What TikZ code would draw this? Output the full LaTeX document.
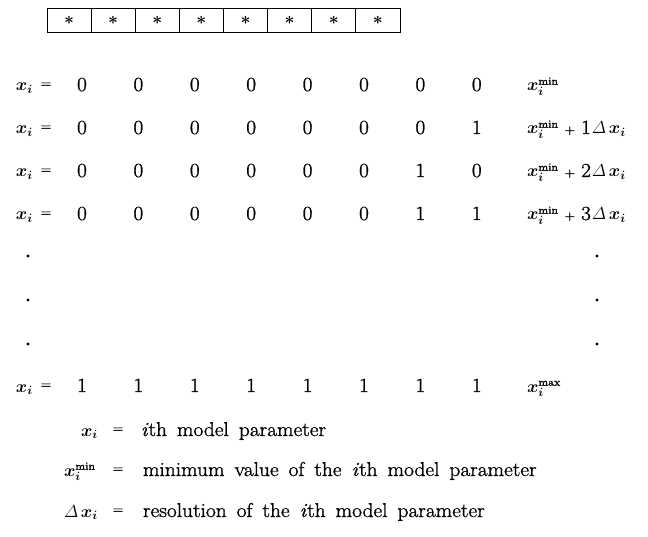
\documentclass[tikz,border=0pt]{standalone}
\usepackage{amsmath}
\usepackage{fontspec}
\setmainfont{Latin Modern Roman}[FakeBold=1.2,FakeStretch=1.07]
\newcommand{\bodyfont}{\fontsize{20}{23}\selectfont\spaceskip 10pt\relax}
\newcommand{\mathsize}{\fontsize{17}{20}\selectfont}
\newcommand{\bx}{\boldsymbol{x}_{\boldsymbol{i}}}
\newcommand{\xsubi}{{\mathsize$\bx$}}
\newcommand{\supsize}{\fontsize{11}{13}\selectfont}
\newcommand{\xlow}{{\mathsize$\bx^{\hbox{\supsize min}}$}}
\newcommand{\xhigh}{{\mathsize$\bx^{\hbox{\supsize max}}$}}
\newcommand{\dx}{{\mathsize$\mathit{\varDelta}\,\bx$}}
\newcommand{\plus}{{\fontsize{13}{15}\selectfont +}}
\newcommand{\step}[1]{\xlow\hspace{6pt}\plus\hspace{6pt}#1\hspace{1pt}\dx}
% one row of bits: #1 = row height, #2 = row name, #3 = the eight bits
\newcommand{\bitrow}[3]{%
  \node[lbl] (lx#2) at (16, #1+6) {\xsubi};
  \node[eqsign] (eq#2) at (46, #1) {=};
  \foreach \b [count=\k from 0] in {#3}
    \node[digit] (d#2\k) at ({82+56.4*\k}, #1+6) {\b};
}
\begin{document}
\begin{tikzpicture}[x=1pt,y=-1pt,
  every node/.style={inner sep=0pt, outer sep=0pt, font=\bodyfont},
  cell/.style={draw, line width=0.9pt, minimum width=44.125pt,
    minimum height=24pt, anchor=west, font=\fontsize{16}{18}\selectfont\boldmath},
  digit/.style={anchor=base},
  eqsign/.style={font=\fontsize{13}{15}\selectfont},
  lbl/.style={anchor=base west},
  dotmark/.style={circle, fill, minimum size=3.2pt, inner sep=0pt}]
\useasboundingbox (0,0) rectangle (648,537);

% register cells of the chromosome
\foreach \k in {0,...,7}
  \node[cell] (c\k) at ({47+44.125*\k}, 20) {$\ast$};

% binary rows
\bitrow{85}{a}{0,0,0,0,0,0,0,0}
\bitrow{128}{b}{0,0,0,0,0,0,0,1}
\bitrow{171}{c}{0,0,0,0,0,0,1,0}
\bitrow{214}{d}{0,0,0,0,0,0,1,1}
\bitrow{386}{e}{1,1,1,1,1,1,1,1}

% values on the right
\node[lbl] (va) at (527, 91) {\xlow};
\node[lbl] (vb) at (527, 134) {\step{1}};
\node[lbl] (vc) at (527, 177) {\step{2}};
\node[lbl] (vd) at (527, 220) {\step{3}};
\node[lbl] (ve) at (527, 392) {\xhigh};

% vertical ellipsis
\foreach \y [count=\n] in {256,300,344}{
  \node[dotmark] (ld\n) at (28, \y) {};
  \node[dotmark] (rd\n) at (597, \y) {};
}

% legend
\node[lbl] (k1) at (81, 436) {\xsubi};
\node[eqsign] (ke1) at (118, 430) {=};
\node[lbl] (kt1) at (141, 436) {\textit{i}th model parameter};

\node[lbl] (k2) at (64, 476) {\xlow};
\node[eqsign] (ke2) at (118, 470) {=};
\node[lbl] (kt2) at (143, 476) {minimum value of the \textit{i}th model parameter};

\node[lbl] (k3) at (64, 517) {\dx};
\node[eqsign] (ke3) at (118, 511) {=};
\node[lbl] (kt3) at (143, 517) {resolution of the \textit{i}th model parameter};
\end{tikzpicture}
\end{document}
